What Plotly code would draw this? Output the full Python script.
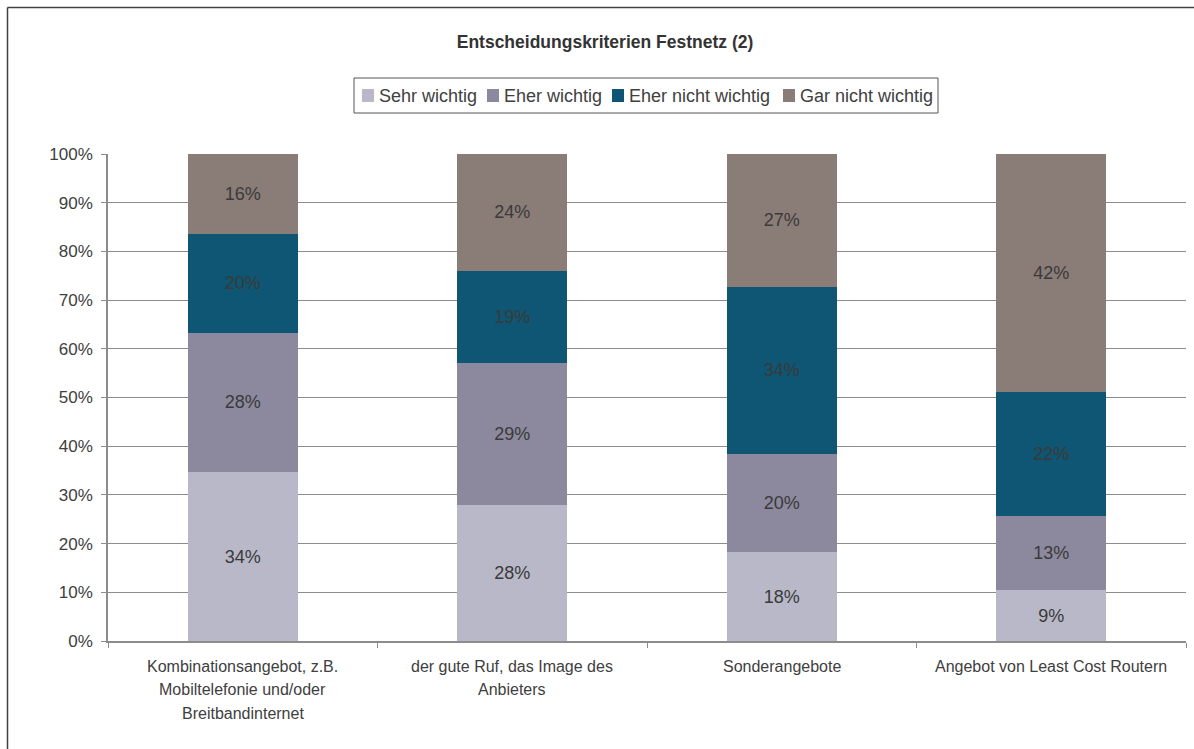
import plotly.graph_objects as go

categories = [
    "Kombinationsangebot, z.B.<br>Mobiltelefonie und/oder<br>Breitbandinternet",
    "der gute Ruf, das Image des<br>Anbieters",
    "Sonderangebote",
    "Angebot von Least Cost Routern",
]
sehr_wichtig = [34, 28, 18, 9]
eher_wichtig = [28, 29, 20, 13]
eher_nicht_wichtig = [20, 19, 34, 22]
gar_nicht_wichtig = [16, 24, 27, 42]

series_names = ["Sehr wichtig", "Eher wichtig", "Eher nicht wichtig", "Gar nicht wichtig"]
series_values = [sehr_wichtig, eher_wichtig, eher_nicht_wichtig, gar_nicht_wichtig]
series_colors = ["#B8B8C8", "#8C899E", "#0E5673", "#8A7C77"]

FONT = "Liberation Sans, Arial, sans-serif"
TXT = "#404040"

fig = go.Figure()
for name, vals, color in zip(series_names, series_values, series_colors):
    fig.add_trace(go.Bar(
        name=name, x=categories, y=vals,
        marker=dict(color=color, line=dict(width=0)),
        text=[f"{v}%" for v in vals],
        textposition="inside", insidetextanchor="middle",
        textangle=0, constraintext="none",
        textfont=dict(family=FONT, size=18, color="#3a3a3a"),
        showlegend=False,
    ))

W, H = 1194, 749
ml, mr, mt, mb = 108, 8, 154, 108
pw, ph = W - ml - mr, H - mt - mb

def px(xp):
    return (xp - ml) / pw

def py(yp):
    return (H - mb - yp) / ph

fig.update_layout(
    width=W, height=H,
    barmode="stack", barnorm="percent", bargap=0.592,
    margin=dict(l=ml, r=mr, t=mt, b=mb),
    paper_bgcolor="white", plot_bgcolor="white",
    font=dict(family=FONT, size=15, color=TXT),
    title=dict(text="<b>Entscheidungskriterien Festnetz (2)</b>",
               x=605 / W, xref="container", xanchor="center",
               y=1 - 42 / H, yanchor="middle",
               font=dict(family=FONT, size=17.5, color="#333333")),
    xaxis=dict(showline=True, linecolor="#8c8c8c", linewidth=1.5,
               ticks="outside", tickson="boundaries", ticklen=5,
               tickcolor="#8c8c8c", showgrid=False,
               showticklabels=False),
    yaxis=dict(range=[0, 100], dtick=10, ticksuffix="%",
               showline=True, linecolor="#8c8c8c", linewidth=1.5,
               ticks="outside", ticklen=5, tickcolor="#8c8c8c",
               ticklabelstandoff=5,
               showgrid=True, gridcolor="#8c8c8c", gridwidth=1,
               zeroline=False,
               tickfont=dict(family=FONT, size=17, color=TXT)),
    showlegend=False,
)

# category labels, one annotation per line for Excel-like line spacing
for cat in categories:
    for i, line in enumerate(cat.split("<br>")):
        fig.add_annotation(x=cat, xref="x", y=py(666 + 23.5 * i), yref="paper",
                           text=line, showarrow=False, xanchor="center",
                           yanchor="middle",
                           font=dict(family=FONT, size=16, color=TXT))

# legend drawn as in the original (compact boxed row)
leg_left, leg_right, leg_top, leg_bot = 354, 938, 78, 113
fig.add_shape(type="rect", xref="paper", yref="paper",
              x0=px(leg_left), x1=px(leg_right), y0=py(leg_bot), y1=py(leg_top),
              line=dict(color="#555555", width=1), fillcolor="white", layer="above")
item_x = [362, 487, 612, 783]
yc = (leg_top + leg_bot) / 2
for name, color, x0 in zip(series_names, series_colors, item_x):
    fig.add_shape(type="rect", xref="paper", yref="paper",
                  x0=px(x0), x1=px(x0 + 12), y0=py(yc + 6.5), y1=py(yc - 6.5),
                  line=dict(width=0), fillcolor=color, layer="above")
    fig.add_annotation(x=px(x0 + 15), xref="paper", y=py(yc), yref="paper",
                       text=name, showarrow=False, xanchor="left", yanchor="middle",
                       font=dict(family=FONT, size=18, color=TXT))

# outer chart border (top & left visible, right/bottom run off the image)
bx = px(7.5)
by = py(7.5)
fig.add_shape(type="line", xref="paper", yref="paper",
              x0=bx, x1=px(W + 5), y0=by, y1=by,
              line=dict(color="#404040", width=1.5))
fig.add_shape(type="line", xref="paper", yref="paper",
              x0=bx, x1=bx, y0=by, y1=py(H + 5),
              line=dict(color="#404040", width=1.5))

fig.write_html("out.html", config={"displayModeBar": False},
               post_script="document.body.style.margin='0';document.body.style.padding='0';")
